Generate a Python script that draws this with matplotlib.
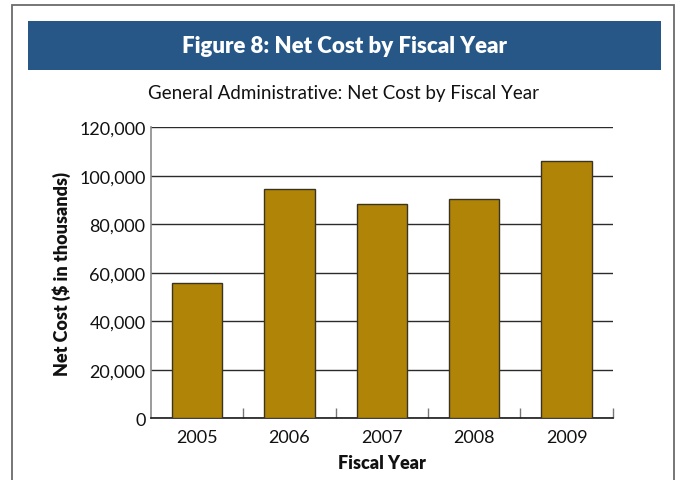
import numpy as np
import matplotlib
matplotlib.use("Agg")
import matplotlib.pyplot as plt
from matplotlib.patches import Rectangle
from matplotlib.ticker import FuncFormatter, FixedLocator

plt.rcParams['font.family'] = ['Lato', 'DejaVu Sans']

years = ["2005", "2006", "2007", "2008", "2009"]
net_cost = [55900, 94400, 88200, 90500, 106200]  # $ in thousands

BAR_GOLD = "#B08406"
BANNER_BLUE = "#265787"

fig = plt.figure(figsize=(6.77, 4.81), dpi=100)
W, H = 677, 481

# outer frame (bottom edge runs off the page)
fig.patches.append(Rectangle((11.7 / W, -0.05), (674 - 11.7) / W, 1.05 - 5.7 / H,
                             transform=fig.transFigure, fill=False,
                             edgecolor="#6b6b6b", linewidth=1.3))

# header banner
fig.patches.append(Rectangle((28 / W, 1 - 70.7 / H), (661 - 28) / W, (70.7 - 22) / H,
                             transform=fig.transFigure, facecolor=BANNER_BLUE,
                             edgecolor="none"))
fig.text(344.5 / W, 1 - 46.5 / H, "Figure 8: Net Cost by Fiscal Year",
         ha="center", va="center", color="white", fontsize=16, fontweight="heavy")
fig.text(344 / W, 1 - 93.5 / H, "General Administrative: Net Cost by Fiscal Year",
         ha="center", va="center", color="#111111", fontsize=13.5)

ax = fig.add_axes([151 / W, 1 - 419.2 / H, (612.7 - 151) / W, (419.2 - 128.2) / H])
x = np.arange(len(years))
ax.bar(x, net_cost, width=0.545, color=BAR_GOLD, edgecolor="#3b3321",
       linewidth=1.0, zorder=3)

ax.set_xlim(-0.5, len(years) - 0.5)
ax.set_ylim(0, 120000)
ax.set_yticks(np.arange(0, 120001, 20000))
ax.yaxis.set_major_formatter(FuncFormatter(lambda v, p: f"{int(v):,}"))
ax.grid(axis="y", color="#2b2b2b", linewidth=1.0, zorder=1)
ax.tick_params(axis="y", length=0, pad=4, labelsize=13, labelcolor="#111111")

# category labels centred, tick marks on the category boundaries
ax.set_xticks(x)
ax.set_xticklabels(years)
ax.tick_params(axis="x", which="major", length=0, pad=8, labelsize=13,
               labelcolor="#111111")
ax.xaxis.set_minor_locator(FixedLocator(np.arange(-0.5, len(years), 1.0)[1:]))
ax.tick_params(axis="x", which="minor", direction="in", length=7,
               width=1.0, color="#777777")

for side in ("top", "right"):
    ax.spines[side].set_visible(False)
ax.spines["left"].set_color("#8a8a8a")
ax.spines["left"].set_linewidth(1.2)
ax.spines["bottom"].set_color("#1a1a1a")
ax.spines["bottom"].set_linewidth(1.2)

ax.set_xlabel("Fiscal Year", fontsize=13, fontweight="heavy", labelpad=6,
              color="#111111")
ax.set_ylabel("Net Cost ($ in thousands)", fontsize=13, fontweight="heavy",
              labelpad=6, color="#111111")

fig.savefig("out.png", dpi=100, facecolor="white")
